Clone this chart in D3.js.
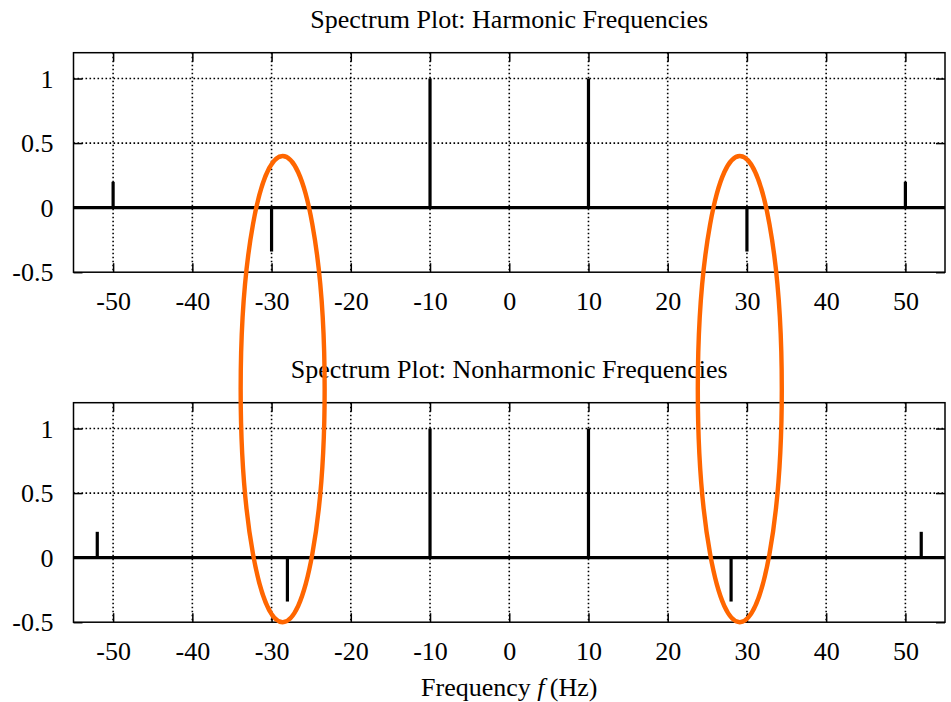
<!DOCTYPE html>
<html>
<head>
<meta charset="utf-8">
<script src="https://cdn.jsdelivr.net/npm/d3@7"></script>
<style>
  html, body { margin: 0; padding: 0; background: #fff; }
  svg text { font-family: "Liberation Serif", "DejaVu Serif", serif; fill: #000; }
</style>
</head>
<body>
<svg id="chart" width="951" height="702"></svg>
<script>
// Spectral lines: frequency (Hz) and amplitude
const harmonicFreqs = [-50, -30, -10, 10, 30, 50];
const harmonicAmps  = [0.2, -0.34, 1, 1, -0.34, 0.2];
const nonharmonicFreqs = [-52, -28, -10, 10, 28, 52];
const nonharmonicAmps  = [0.2, -0.34, 1, 1, -0.34, 0.2];

const xTicks = [-50, -40, -30, -20, -10, 0, 10, 20, 30, 40, 50];
const yTicks = [-0.5, 0, 0.5, 1];
const yGrid = [0.5, 1];
const titles = ["Spectrum Plot: Harmonic Frequencies", "Spectrum Plot: Nonharmonic Frequencies"];
const xLabel = "Frequency";

// Highlight ellipses: centre frequency, half-width (Hz), top amplitude (upper panel), bottom amplitude (lower panel)
const highlightCenters = [-28.6, 29.1];
const highlightHalfWidth = 5.3;
const highlightTop = 0.4;
const highlightBottom = -0.5;

const FONT = "26px";
const svg = d3.select("#chart");
const left = 73.5, right = 945;
const panelTops = [52.7, 402.7];
const panelH = 219.5;

const x = d3.scaleLinear().domain([-55, 55]).range([left, right]);
const fmt = d => String(d);   // plain hyphen-minus, as in the labels

const panels = [
  { freqs: harmonicFreqs, amps: harmonicAmps, title: titles[0] },
  { freqs: nonharmonicFreqs, amps: nonharmonicAmps, title: titles[1] }
];

const yScales = [];

panels.forEach((p, i) => {
  const top = panelTops[i];
  const y = d3.scaleLinear().domain([-0.5, 1.2]).range([top + panelH, top]);
  yScales.push(y);
  const g = svg.append("g");

  // dotted grid
  g.selectAll(".vgrid").data(xTicks).join("line")
    .attr("x1", d => x(d)).attr("x2", d => x(d))
    .attr("y1", top).attr("y2", top + panelH)
    .attr("stroke", "#000").attr("stroke-width", 1.6)
    .attr("stroke-dasharray", "1.6,2.4");
  g.selectAll(".hgrid").data(yGrid).join("line")
    .attr("x1", left).attr("x2", right)
    .attr("y1", d => y(d)).attr("y2", d => y(d))
    .attr("stroke", "#000").attr("stroke-width", 1.6)
    .attr("stroke-dasharray", "1.6,2.4");

  // axes with inward ticks, mirrored on all four sides
  const bottomAxis = d3.axisBottom(x).tickValues(xTicks).tickSize(-9).tickFormat(fmt);
  const topAxis = d3.axisTop(x).tickValues(xTicks).tickSize(-9).tickFormat("");
  const leftAxis = d3.axisLeft(y).tickValues(yTicks).tickSize(-9).tickFormat(fmt);
  const rightAxis = d3.axisRight(y).tickValues(yTicks).tickSize(-9).tickFormat("");

  const styleAxis = sel => {
    sel.select(".domain").remove();
    sel.selectAll(".tick line").attr("stroke", "#000").attr("stroke-width", 1.5);
  };

  g.append("g").attr("transform", `translate(0,${top + panelH})`).call(bottomAxis).call(styleAxis)
    .selectAll("text").attr("y", 38).attr("dy", null).style("font-size", FONT)
    .style("font-family", "Liberation Serif, serif").attr("fill", "#000");
  g.append("g").attr("transform", `translate(0,${top})`).call(topAxis).call(styleAxis);
  g.append("g").attr("transform", `translate(${left},0)`).call(leftAxis).call(styleAxis)
    .selectAll("text").attr("x", -20).attr("dy", "0.33em").style("font-size", FONT)
    .style("font-family", "Liberation Serif, serif").attr("fill", "#000");
  g.append("g").attr("transform", `translate(${right},0)`).call(rightAxis).call(styleAxis);

  // zero line
  g.append("line")
    .attr("x1", left).attr("x2", right)
    .attr("y1", y(0)).attr("y2", y(0))
    .attr("stroke", "#000").attr("stroke-width", 3.2);

  // spectral lines
  g.selectAll(".spike").data(p.freqs.map((f, k) => ({ f, a: p.amps[k] }))).join("line")
    .attr("x1", d => x(d.f)).attr("x2", d => x(d.f))
    .attr("y1", y(0)).attr("y2", d => y(d.a))
    .attr("stroke", "#000").attr("stroke-width", 3.2);

  // frame
  g.append("rect")
    .attr("x", left).attr("y", top).attr("width", right - left).attr("height", panelH)
    .attr("fill", "none").attr("stroke", "#000").attr("stroke-width", 1.5);

  // title
  g.append("text")
    .attr("x", (left + right) / 2).attr("y", top - 25)
    .attr("text-anchor", "middle").style("font-size", FONT)
    .text(p.title);
});

// x-axis label with italic symbol
const lbl = svg.append("text")
  .attr("x", (left + right) / 2).attr("y", 696)
  .attr("text-anchor", "middle").style("font-size", FONT);
lbl.append("tspan").text(xLabel + " ");
lbl.append("tspan").style("font-style", "italic").text("f");
lbl.append("tspan").text("\u2009(Hz)");

// orange highlight ellipses spanning both panels
const yTopPx = yScales[0](highlightTop);
const yBotPx = yScales[1](highlightBottom);
svg.selectAll(".highlight").data(highlightCenters).join("ellipse")
  .attr("cx", d => x(d))
  .attr("cy", (yTopPx + yBotPx) / 2)
  .attr("rx", d => x(d + highlightHalfWidth) - x(d))
  .attr("ry", (yBotPx - yTopPx) / 2)
  .attr("fill", "none")
  .attr("stroke", "#ff6600")
  .attr("stroke-width", 4.4);
</script>
</body>
</html>
